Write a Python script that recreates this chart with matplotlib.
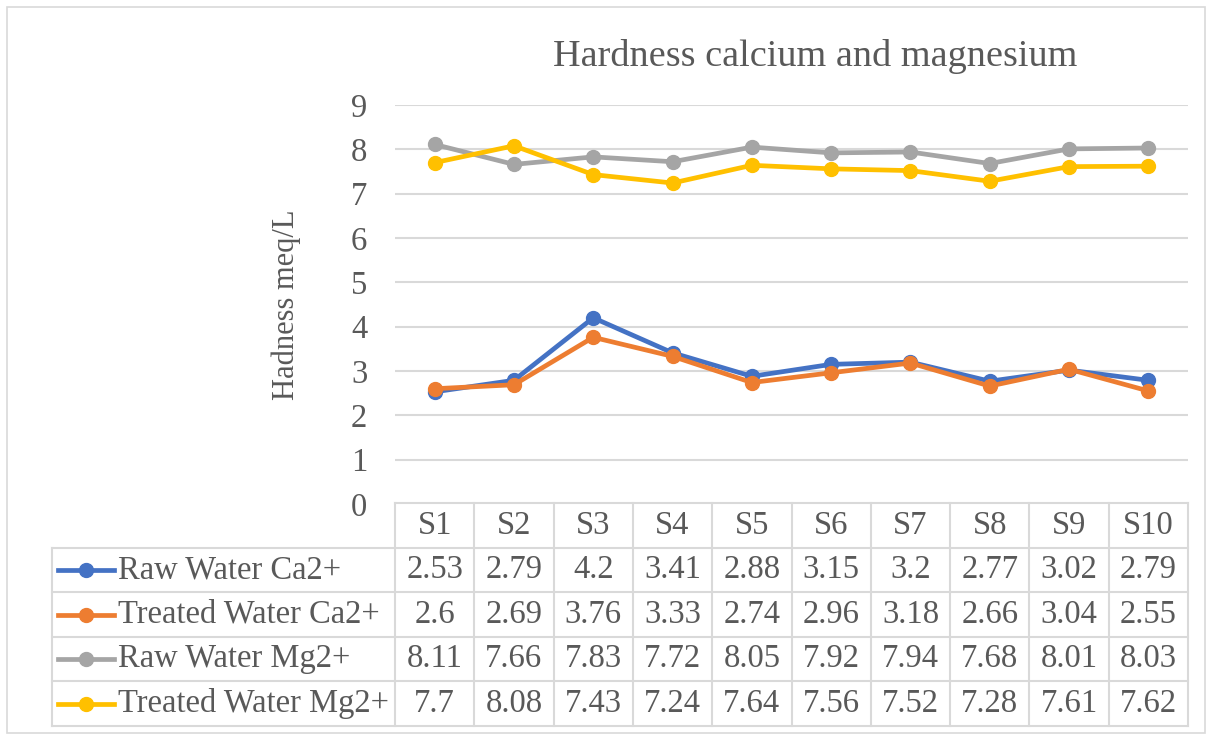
import numpy as np
import matplotlib
matplotlib.use('Agg')
from matplotlib import pyplot as plt
from matplotlib.lines import Line2D

plt.rcParams['font.family'] = ['Liberation Serif', 'DejaVu Serif']

sites = ['S1', 'S2', 'S3', 'S4', 'S5', 'S6', 'S7', 'S8', 'S9', 'S10']
raw_ca = [2.53, 2.79, 4.2, 3.41, 2.88, 3.15, 3.2, 2.77, 3.02, 2.79]
treated_ca = [2.6, 2.69, 3.76, 3.33, 2.74, 2.96, 3.18, 2.66, 3.04, 2.55]
raw_mg = [8.11, 7.66, 7.83, 7.72, 8.05, 7.92, 7.94, 7.68, 8.01, 8.03]
treated_mg = [7.7, 8.08, 7.43, 7.24, 7.64, 7.56, 7.52, 7.28, 7.61, 7.62]
labels = ['Raw Water Ca2+', 'Treated Water Ca2+', 'Raw Water Mg2+', 'Treated Water Mg2+']
colors = ['#4472C4', '#ED7D31', '#A5A5A5', '#FFC000']
series = [raw_ca, treated_ca, raw_mg, treated_mg]

W, H = 1213, 736
txt = '#595959'
grid = '#d9d9d9'
fs = 23.5

def fx(px):
    return px / W

def fy(py):
    return 1 - py / H

fig = plt.figure(figsize=(W / 100, H / 100), dpi=100)

# outer chart border
fig.patches.append(plt.Rectangle((fx(7), fy(733)), fx(1205) - fx(7), fy(7) - fy(733),
                                 transform=fig.transFigure, fill=False, ec=grid, lw=1.2))

left, right = 395, 1188
ax = fig.add_axes([fx(left), fy(504), fx(right) - fx(left), fy(105) - fy(504)])
x = np.arange(len(sites))
for s, c in zip(series, colors):
    ax.plot(x, s, color=c, lw=3.4, marker='o', ms=10, solid_capstyle='round', zorder=3)
ax.set_xlim(-0.5, len(sites) - 0.5)
ax.set_ylim(0, 9)
ax.set_yticks(range(10))
ax.yaxis.grid(True, color=grid, lw=1.5)
ax.set_axisbelow(True)
for sp in ax.spines.values():
    sp.set_visible(False)
ax.set_xticks([])
ax.tick_params(axis='y', length=0, pad=20, labelsize=fs, labelcolor=txt)
ax.set_ylabel('Hadness meq/L', fontsize=22, color=txt, labelpad=36)
fig.text(fx(815), fy(56), 'Hardness calcium and magnesium', ha='center', va='center',
         fontsize=27.5, color=txt)

# data table
top, bottom = 503, 726
tab = fig.add_axes([fx(left), fy(bottom), fx(right) - fx(left), fy(top) - fy(bottom)])
tab.set_xlim(-0.5, len(sites) - 0.5)
tab.set_ylim(5, 0)
tab.axis('off')
leg_left = (52 - left) / (right - left) * len(sites) - 0.5
lk = dict(color=grid, lw=1.5, clip_on=False)
tab.plot([-0.5, len(sites) - 0.5], [0, 0], **lk)
for r in range(1, 6):
    tab.plot([leg_left, len(sites) - 0.5], [r, r], **lk)
tab.plot([leg_left, leg_left], [1, 5], **lk)
for i in range(len(sites) + 1):
    tab.plot([i - 0.5, i - 0.5], [0, 5], **lk)
for i, s in enumerate(sites):
    tab.text(i, 0.5, s, ha='center', va='center', fontsize=fs, color=txt)
unit = (right - left) / len(sites)
for r, (lab, s, c) in enumerate(zip(labels, series, colors)):
    yy = r + 1.5
    x0 = leg_left + 6 / unit
    x1 = leg_left + 62 / unit
    tab.add_line(Line2D([x0, x1], [yy, yy], color=c, lw=3.4, clip_on=False))
    tab.plot([(x0 + x1) / 2], [yy], marker='o', ms=10, color=c, clip_on=False)
    tab.text(leg_left + 66 / unit, yy, lab, ha='left', va='center', fontsize=fs, color=txt)
    for i, v in enumerate(s):
        tab.text(i, yy, f'{v:g}', ha='center', va='center', fontsize=fs, color=txt)

fig.savefig('out.png', dpi=100)
